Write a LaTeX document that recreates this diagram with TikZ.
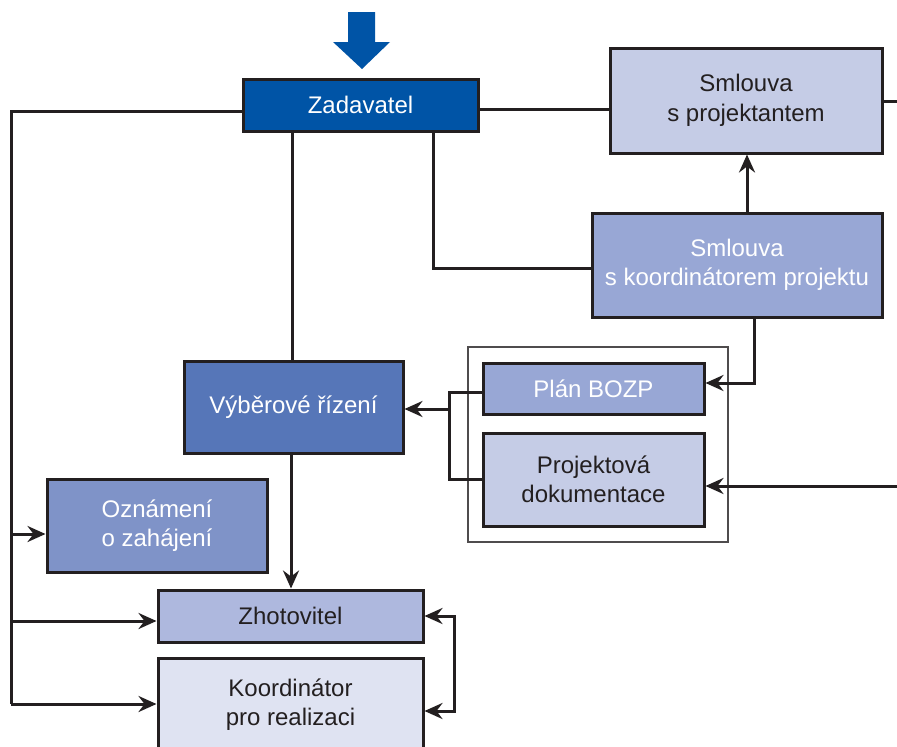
\documentclass[tikz,border=0pt]{standalone}
\usepackage{fontspec}
\setmainfont{Liberation Sans}
\usetikzlibrary{arrows.meta}
\definecolor{ink}{HTML}{231F20}
\definecolor{cZad}{HTML}{0054A6}
\definecolor{cPale}{HTML}{C5CCE6}
\definecolor{cMid}{HTML}{98A7D5}
\definecolor{cVyb}{HTML}{5676B8}
\definecolor{cOzn}{HTML}{7F93C8}
\definecolor{cZho}{HTML}{AEB8DE}
\definecolor{cKoo}{HTML}{DFE3F2}
\tikzset{
  box/.style={draw=ink, line width=3pt, rectangle, inner sep=0pt, align=center,
    font=\fontsize{24}{29.5}\selectfont},
  darkbox/.style={box, text=white},
  lightbox/.style={box, text=ink},
  conn/.style={draw=ink, line width=3pt},
  arr/.style={conn, -{Stealth[length=18pt,width=16pt,inset=6pt]}},
  arrb/.style={conn, {Stealth[length=18pt,width=16pt,inset=6pt]}-{Stealth[length=18pt,width=16pt,inset=6pt]}},
  framebox/.style={draw=ink!80, line width=1.2pt, rectangle, inner sep=0pt}
}
\begin{document}
\begin{tikzpicture}[x=1pt,y=-1pt]
\useasboundingbox (0,0) rectangle (897,747);
\clip (0,0) rectangle (897,747);
\fill[white] (0,0) rectangle (897,747);

% big entry arrow
\fill[cZad] (348,12) -- (375,12) -- (375,42) -- (390,42) -- (362,69) -- (333,42) -- (348,42) -- cycle;

% group frame
\node[framebox, minimum width=260pt, minimum height=195pt] (grp) at (598,444.5) {};

% nodes
\node[darkbox, fill=cZad, minimum width=235pt, minimum height=52pt] (zad) at (360.5,105) {Zadavatel};
\node[lightbox, fill=cPale, minimum width=272pt, minimum height=105pt] (proj) at (746,100.5) {Smlouva\\s projektantem};
\node[darkbox, fill=cMid, minimum width=290pt, minimum height=104pt] (koord) at (737,265) {Smlouva\\s koordinátorem projektu};
\node[darkbox, fill=cMid, minimum width=221pt, minimum height=51pt] (bozp) at (593.5,388.5) {Plán BOZP};
\node[lightbox, fill=cPale, minimum width=221pt, minimum height=93pt] (pd) at (593.5,479.5) {Projektová\\dokumentace};
\node[darkbox, fill=cVyb, minimum width=219pt, minimum height=92pt] (vr) at (293.5,407) {Výběrové řízení};
\node[darkbox, fill=cOzn, minimum width=220pt, minimum height=93pt] (ozn) at (157,525.5) {Oznámení\\o zahájení};
\node[lightbox, fill=cZho, minimum width=265pt, minimum height=52pt] (zho) at (290.5,616) {Zhotovitel};
\node[lightbox, fill=cKoo, minimum width=265pt, minimum height=93pt] (kr) at (290.5,704.5) {Koordinátor\\pro realizaci};

% free ends
\coordinate (ltop) at (11,111);
\coordinate (lbot) at (11,704);
\coordinate (redge) at (900,101);
\coordinate (redge2) at (900,486);
\coordinate (brk) at (449,409);

% left trunk
\draw[conn] (zad.west |- ltop) -- (ltop) -- (lbot);
\draw[arr] (lbot) -- (kr.west |- lbot);
\draw[arr] (11,534) -- (ozn.west |- 0,534);
\draw[arr] (11,621) -- (zho.west |- 0,621);

% top connectors
\draw[conn] (zad.east |- 0,109) -- (proj.west |- 0,109);
\draw[conn] (proj.east |- redge) -- (redge);
\draw[conn] (zad.south -| 433,0) |- (koord.west |- 0,268);
\draw[arr] (koord.north -| 747,0) -- (proj.south -| 747,0);
\draw[arr] (koord.south -| 754,0) |- (bozp.east |- 0,383);
\draw[arr] (redge2) -- (pd.east |- redge2);

% bracket into Vyberove rizeni
\draw[conn] (bozp.west |- 0,392) -- (449,392) -- (449,479) -- (pd.west |- 0,479);
\draw[arr] (brk) -- (vr.east |- brk);

% vertical chain
\draw[conn] (zad.south -| 292,0) -- (vr.north -| 292,0);
\draw[arr] (vr.south -| 291,0) -- (zho.north -| 291,0);

% double arrow on right
\draw[arrb] (zho.east |- 0,616) -- (454,616) -- (454,711) -- (kr.east |- 0,711);
\end{tikzpicture}
\end{document}
